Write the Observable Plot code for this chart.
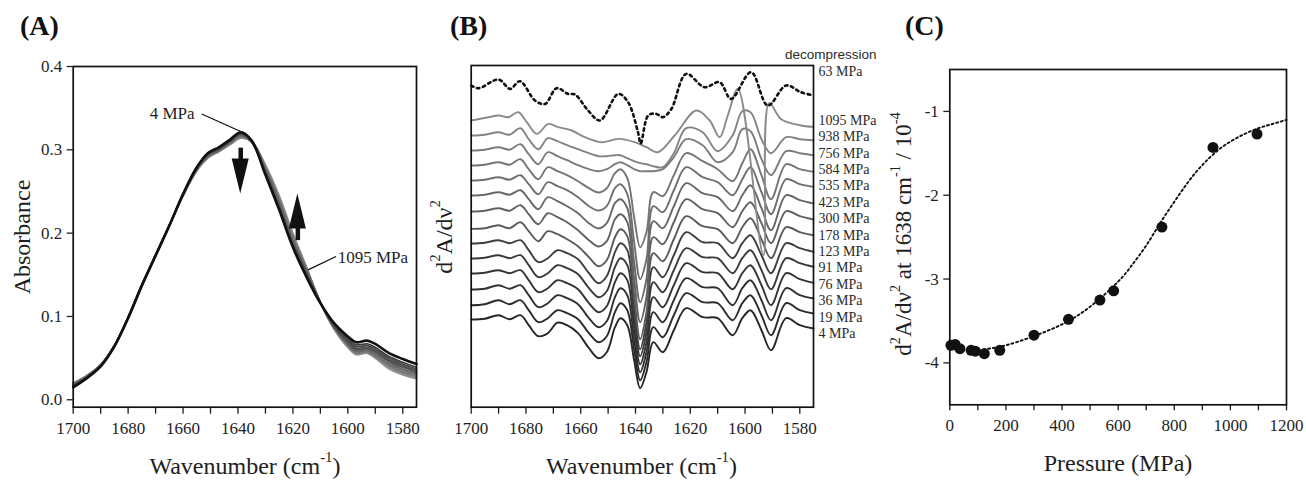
<!DOCTYPE html>
<html><head><meta charset="utf-8">
<script src="https://cdn.jsdelivr.net/npm/d3@7"></script>
<script src="https://cdn.jsdelivr.net/npm/@observablehq/plot@0.6"></script>
<style>
body{margin:0;background:#fff;}
#wrap{position:relative;width:1306px;height:480px;overflow:hidden;background:#fff;font-family:"Liberation Serif","Times New Roman",serif;color:#222;}
.panel{position:absolute;top:0;}
.plab{position:absolute;top:12px;font-weight:bold;font-size:28px;line-height:28px;color:#111;}
svg g[aria-label$="tick label"] text{font-family:"Liberation Serif","Times New Roman",serif !important;font-variant:normal !important;font-variant-numeric:normal !important;font-size:17px !important;}
</style></head><body>
<div id="wrap">
  <div class="plab" style="left:20px">(A)</div>
  <div class="plab" style="left:450px">(B)</div>
  <div class="plab" style="left:905px">(C)</div>
  <div class="panel" id="pa" style="left:0px"></div>
  <div class="panel" id="pb" style="left:430px"></div>
  <div class="panel" id="pc" style="left:880px"></div>
</div>
<script>
// ---------------- DATA ----------------
const pressures = [4, 19, 36, 76, 91, 123, 178, 300, 423, 535, 584, 756, 938, 1095];
const wnTicks = [1700, 1690, 1680, 1670, 1660, 1650, 1640, 1630, 1620, 1610, 1600, 1590, 1580];
const absTicks = [0, 0.1, 0.2, 0.3, 0.4];

// Panel A: absorbance spectra
const wnA = [1700,1695,1690,1685,1680,1675,1670,1665,1660,1655,1651,1647,1643,1639,1635,1630,1625,1620,1615,1610,1605,1600,1597,1593,1590,1585,1580,1575];
const absA_4    = [.015,.026,.040,.064,.098,.137,.173,.209,.247,.279,.296,.303,.312,.321,.311,.270,.228,.183,.147,.116,.092,.076,.069,.071,.067,.056,.049,.043];
const absA_19   = [.016,.026,.040,.064,.098,.137,.173,.209,.247,.279,.295,.302,.311,.320,.310,.271,.229,.185,.149,.116,.090,.073,.066,.067,.063,.052,.045,.039];
const absA_36   = [.016,.027,.041,.064,.098,.137,.173,.209,.247,.278,.295,.302,.311,.320,.310,.272,.230,.186,.150,.116,.089,.071,.064,.065,.061,.050,.043,.037];
const absA_76   = [.017,.027,.041,.065,.098,.137,.173,.209,.246,.278,.294,.301,.310,.319,.310,.273,.232,.187,.151,.117,.089,.070,.062,.063,.059,.048,.041,.035];
const absA_91   = [.017,.027,.041,.065,.098,.137,.173,.209,.246,.278,.294,.301,.310,.319,.309,.274,.233,.188,.152,.117,.088,.069,.061,.062,.058,.047,.040,.034];
const absA_123  = [.017,.028,.041,.065,.099,.138,.173,.209,.246,.277,.293,.300,.309,.318,.309,.275,.234,.189,.153,.117,.088,.068,.060,.061,.057,.046,.039,.033];
const absA_178  = [.018,.028,.041,.065,.099,.138,.174,.209,.246,.277,.293,.300,.309,.318,.310,.276,.236,.190,.154,.117,.087,.067,.059,.060,.056,.045,.037,.032];
const absA_300  = [.018,.028,.042,.065,.099,.138,.174,.209,.246,.277,.292,.299,.308,.317,.310,.277,.238,.192,.155,.117,.087,.066,.058,.059,.054,.043,.036,.031];
const absA_423  = [.019,.028,.042,.065,.099,.138,.174,.209,.245,.276,.292,.299,.308,.316,.310,.278,.240,.194,.156,.117,.086,.065,.057,.058,.053,.042,.034,.030];
const absA_535  = [.019,.029,.042,.065,.099,.138,.174,.209,.245,.276,.291,.299,.307,.316,.310,.279,.241,.196,.157,.117,.086,.065,.056,.058,.052,.041,.033,.029];
const absA_584  = [.019,.029,.042,.065,.099,.138,.174,.209,.245,.276,.291,.298,.307,.315,.310,.280,.242,.197,.157,.117,.086,.064,.056,.057,.052,.040,.032,.028];
const absA_756  = [.020,.029,.042,.065,.099,.138,.174,.209,.245,.275,.291,.298,.307,.315,.310,.281,.243,.198,.158,.117,.085,.064,.055,.057,.051,.039,.031,.027];
const absA_938  = [.020,.029,.042,.065,.099,.138,.174,.209,.245,.275,.290,.298,.306,.314,.310,.281,.244,.199,.158,.117,.085,.063,.055,.056,.050,.038,.030,.026];
const absA_1095 = [.020,.029,.042,.065,.099,.138,.174,.209,.245,.275,.290,.298,.306,.314,.310,.282,.245,.200,.159,.117,.085,.063,.054,.056,.050,.037,.030,.025];
// Panel A annotations (data coordinates)
const arrowsA = [{w: 1639, tail: 0.302, tip: 0.247}, {w: 1618.2, tail: 0.191, tip: 0.247}];
const noteA4 = [{text: "4 MPa", w: 1655.8, a: 0.344, lx: 1653.2, ly: 0.343, px: 1639, py: 0.322}];
const noteA1095 = [{text: "1095 MPa", w: 1603.7, a: 0.171, lx: 1604.3, ly: 0.172, px: 1614.5, py: 0.156}];

// Panel B: second-derivative spectra (arbitrary units, stacked)
const wnB = [1700,1695,1690,1686,1682,1679,1675.5,1672,1668.5,1665,1661,1657,1653.5,1650.5,1647.5,1645.5,1643,1640.5,1638.3,1636,1633.5,1630,1626,1621.5,1615.5,1610,1604.5,1601,1598,1594,1590.5,1585,1580,1575];
const d2B_4   = [87.7,88.5,92,88,92,82,71,74,84.5,82,74,59,49,55,80,89,82,47,19,35,65,55,77,99,90,89,72,89,97,77,57,89,82,78.7];
const d2B_19  = [102,103,107,103,107,97,85,89,97,94,88,74,65,71,95,104,97,58,27,45,80,70,92,114,105,104,87,104,112,92,72,104,97,93.7];
const d2B_36  = [117.7,118.5,122,118.5,122,112,100,104,112,109,103,89,80,86,110,119,112,68,35,55,95,85,107,129,120,119,102,119,127,107,87,119,112,108.7];
const d2B_76  = [133.7,134.5,137,134,137,127,115,119,127,124,118,104,95,101,125,134,127,79,43,65,110,100,122,144,135,134,118,134,142,122,102,134,128,124.3];
const d2B_91  = [148.7,149.5,152,149,152,142,130,134,142,139,133,119,110,116,140,149,142,90,51,75,125,115,137,159,150,149,134,149,157,137,118,149,144,140.3];
const d2B_123 = [163.7,164.5,167,164,167,157,145,149,157,154,148,134,124,131,155,164,157,101,58,85,140,130,152,175,165,164,149,164,172,152,134,164,159,155.3];
const d2B_178 = [178.3,179,182,179,185,176,166,176,173,168,161,150,141,147,170,178,171,112,68,95,154,146,168,191,181,178,164,180,189,168,149,180,175,172];
const d2B_300 = [195.7,196.5,199,196.5,202,193,183,194,190,185,177,167,160.7,166,188,193,185,128,85,110,170,163,185,208,198,194,180,196,205,184,164,196,191,187.7];
const d2B_423 = [211.7,212.5,215,212.5,217,208,198,210,206,201,194,184,178.7,184,204,208,199,145,105,128,186,179,201,224,214,210,196,212,222,199,177,212,207,203.7];
const d2B_535 = [226.7,227.5,230,227.5,232,223,213,225,221,217,210,201,196.7,201,219,223,213,165,128,148,201,195,217,240,230,225,212,228,240,215,193,228,223,220.3];
const d2B_584 = [241.7,242.5,245,242.5,248,238,228,240,236,232,226,219,214.7,219,234,238,229,190,160,175,215,211,232,254,246,238,226,244,258,232,208,243,238,235.3];
const d2B_756 = [256.7,257.5,260,257.5,263,253,243,255,251,247,242,238,236,238,243,245,242,238,236,236,236,238,250,268,262,245,255,278,276,248,232,256,254,252];
const d2B_938 = [271.7,272.5,275,272.5,279,268,258,269,266,262,258,254,251,251,252,252,249,246,244,243,241,240,254,279,275,256,272,296,295,268,254,270,268,267];
const wnB_1095 = [1700,1693.7,1690,1686.4,1682.8,1679.7,1676,1671.8,1668.2,1663.3,1658.5,1652.4,1646.3,1640.3,1636,1631.8,1625.7,1617.8,1612.9,1609.3,1606.3,1602.6,1593.3,1591.2,1586.8,1580,1575];
const d2B_1095 = [286.7,290,291.7,290,295,285,273.3,283.3,280,276.7,270,265,268.3,265,260,255,271.7,296.7,286.7,270,291.7,318.3,152,304,288,282,280.3];
const wnB_63 = [1700,1697.3,1690,1685.8,1682.2,1676.7,1673,1668.8,1664.6,1662.1,1657.3,1653,1646.3,1642.7,1639.1,1638.1,1635.3,1632.4,1630,1626.9,1621.5,1614.8,1609.3,1605.1,1597.8,1591.7,1585,1579.6,1575];
const d2B_63 = [321.7,319,327.7,318.3,326,306.7,303.3,319,313.3,312.7,296.7,286.7,313.3,305,275,263.7,292,293.3,290,298.3,333.3,320,325,308.3,335,301.7,321.7,315,311.7];

// Panel C: d2A/dv2 at 1638 cm-1 vs pressure
const pressureC = [4, 19, 36, 76, 91, 123, 178, 300, 423, 535, 584, 756, 938, 1095];
const d2C = [-3.79, -3.78, -3.83, -3.85, -3.86, -3.89, -3.85, -3.67, -3.48, -3.25, -3.14, -2.38, -1.43, -1.27];
const fitP = [120, 200, 300, 400, 500, 600, 650, 700, 750, 800, 850, 900, 950, 1000, 1050, 1100, 1150, 1200];
const fitV = [-3.84, -3.79, -3.68, -3.54, -3.33, -3.03, -2.83, -2.60, -2.33, -2.08, -1.84, -1.64, -1.48, -1.36, -1.27, -1.20, -1.15, -1.10];
const pTicks = [0, 100, 200, 300, 400, 500, 600, 700, 800, 900, 1000, 1100, 1200];
const cTicks = [-4, -3, -2, -1];

// ---------------- HELPERS ----------------
const serif = "Liberation Serif, Times New Roman, serif";
const sans = "Liberation Sans, Arial, sans-serif";
const fmtWn = d => d % 20 === 0 ? String(d) : "";
const baseStyle = {fontFamily: serif, fontSize: "17px", color: "#1e1e1e", background: "transparent", overflow: "visible"};
const axisFont = {fontFamily: serif, fontSize: 17, strokeWidth: 1.3, label: null};

function rich(svg, {x, y, rotate = 0, size = 24, parts}) {
  const t = d3.select(svg).append("text")
    .attr("transform", `translate(${x},${y}) rotate(${rotate})`)
    .attr("text-anchor", "middle").attr("font-family", serif)
    .attr("font-size", size).attr("fill", "#1e1e1e");
  let up = false;
  for (const [s, sup] of parts) {
    const ts = t.append("tspan").text(s);
    if (sup) { ts.attr("font-size", size * 0.62); if (!up) { ts.attr("dy", -0.48 * size); up = true; } }
    else if (up) { ts.attr("dy", 0.48 * size); up = false; }
  }
}
function serifTicks(svg) {
  d3.select(svg).selectAll('g[aria-label$="tick label"]')
    .attr("font-family", serif).attr("font-variant", null).style("font-family", serif).style("font-variant", "normal");
  d3.select(svg).selectAll('g[aria-label$="tick label"] text').style("font-family", serif);
}

// ---------------- PANEL A ----------------
const seriesA = [absA_4, absA_19, absA_36, absA_76, absA_91, absA_123, absA_178, absA_300, absA_423, absA_535, absA_584, absA_756, absA_938, absA_1095];
const colA = d3.scaleLinear().domain([0, 1, 13]).range(["#111111", "#404040", "#9c9c9c"]);
const rowsA = seriesA.map((vals, k) => vals.map((v, i) => ({p: pressures[k], w: wnA[i], v, c: colA(k)}))).reverse().flat();
const rowsA4 = rowsA.filter(d => d.p === 4), rowsAo = rowsA.filter(d => d.p !== 4);
const headLen = 0.042, headHalf = 3.1;
const heads = arrowsA.flatMap((d, k) => {
  const base = d.tip + (d.tail > d.tip ? headLen : -headLen);
  return [{k, w: d.w - headHalf, b: base, t: base}, {k, w: d.w, b: base, t: d.tip}, {k, w: d.w + headHalf, b: base, t: base}];
});
const shafts = arrowsA.map(d => ({w: d.w, y1: d.tail, y2: d.tip + (d.tail > d.tip ? headLen - 0.002 : -headLen + 0.002)}));

const chartA = Plot.plot({
  width: 440, height: 480, marginLeft: 72.7, marginRight: 24, marginTop: 66, marginBottom: 73.3,
  x: {domain: [1700, 1575]}, y: {domain: [-0.0089, 0.4]}, color: {type: "identity"},
  style: baseStyle,
  marks: [
    Plot.axisX({...axisFont, ticks: wnTicks, tickFormat: fmtWn, tickSize: 7, tickPadding: 8}),
    Plot.axisY({...axisFont, ticks: absTicks, tickFormat: d3.format(".1f"), tickSize: 6, tickPadding: 5}),
    Plot.line(rowsAo, {x: "w", y: "v", z: "p", stroke: "c", strokeWidth: 1.7, curve: "catmull-rom"}),
    Plot.line(rowsA4, {x: "w", y: "v", z: "p", stroke: "c", strokeWidth: 2.6, curve: "catmull-rom"}),
    Plot.ruleX(shafts, {x: "w", y1: "y1", y2: "y2", stroke: "#111", strokeWidth: 4.5}),
    Plot.areaY(heads, {x: "w", y1: "b", y2: "t", z: "k", fill: "#111", curve: "linear"}),
    Plot.link(noteA4, {x1: "lx", y1: "ly", x2: "px", y2: "py", stroke: "#111", strokeWidth: 1.3}),
    Plot.link(noteA1095, {x1: "lx", y1: "ly", x2: "px", y2: "py", stroke: "#111", strokeWidth: 1.3}),
    Plot.text(noteA4, {x: "w", y: "a", text: "text", textAnchor: "end", fontSize: 17, fontFamily: serif, fill: "#1e1e1e"}),
    Plot.text(noteA1095, {x: "w", y: "a", text: "text", textAnchor: "start", fontSize: 17, fontFamily: serif, fill: "#1e1e1e"}),
    Plot.frame({stroke: "#111", strokeWidth: 1.7})
  ]
});
document.getElementById("pa").appendChild(chartA);
serifTicks(chartA);
rich(chartA, {x: 30, y: 237, rotate: -90, parts: [["Absorbance"]]});
rich(chartA, {x: 245, y: 474, parts: [["Wavenumber (cm"], ["-1", true], [")"]]});

// ---------------- PANEL B ----------------
const seriesB = [
  [4, wnB, d2B_4], [19, wnB, d2B_19], [36, wnB, d2B_36], [76, wnB, d2B_76], [91, wnB, d2B_91],
  [123, wnB, d2B_123], [178, wnB, d2B_178], [300, wnB, d2B_300], [423, wnB, d2B_423], [535, wnB, d2B_535],
  [584, wnB, d2B_584], [756, wnB, d2B_756], [938, wnB, d2B_938], [1095, wnB_1095, d2B_1095]
];
const colB = d3.scaleLinear().domain([0, 5, 6, 13]).range(["#262626", "#3e3e3e", "#5a5a5a", "#8a8a8a"]);
const rowsB = seriesB.flatMap(([p, wn, vals], k) => vals.map((v, i) => ({p, w: wn[i], v, c: colB(k)})));
const rowsB63 = d2B_63.map((v, i) => ({w: wnB_63[i], v}));
const slotStep = 16.4, slotBase = d2B_4[d2B_4.length - 1] - 5;
const labelsB = pressures.map((p, k) => ({text: `${p} MPa`, y: slotBase + k * slotStep}));
const labelsB2 = [{text: "63 MPa", y: slotBase + 16 * slotStep}];
const labelsB3 = [{text: "decompression", y: slotBase + 17 * slotStep}];

const chartB = Plot.plot({
  width: 460, height: 480, marginLeft: 40.7, marginRight: 77, marginTop: 65, marginBottom: 73.3,
  x: {domain: [1700, 1575]}, y: {domain: [0, 341.7], axis: null}, color: {type: "identity"},
  style: baseStyle,
  marks: [
    Plot.axisX({...axisFont, ticks: wnTicks, tickFormat: fmtWn, tickSize: 7, tickPadding: 8}),
    Plot.line(rowsB, {x: "w", y: "v", z: "p", stroke: "c", strokeWidth: 1.9, curve: "catmull-rom"}),
    Plot.line(rowsB63, {x: "w", y: "v", stroke: "#111", strokeWidth: 2.6, strokeDasharray: "2.6,3.6", curve: "catmull-rom"}),
    Plot.text(labelsB, {x: 1575, y: "y", text: "text", textAnchor: "start", dx: 5, fontSize: 14, fontFamily: serif, fill: "#2a2a2a"}),
    Plot.text(labelsB2, {x: 1575, y: "y", text: "text", textAnchor: "start", dx: 5, fontSize: 14, fontFamily: serif, fill: "#2a2a2a"}),
    Plot.text(labelsB3, {x: 1575, y: "y", text: "text", textAnchor: "end", dx: 63, fontSize: 13.5, fontFamily: sans, fill: "#2a2a2a"}),
    Plot.frame({stroke: "#111", strokeWidth: 1.7})
  ]
});
document.getElementById("pb").appendChild(chartB);
serifTicks(chartB);
rich(chartB, {x: 22, y: 237, rotate: -90, parts: [["d"], ["2", true], ["A/dν"], ["2", true]]});
rich(chartB, {x: 211.5, y: 474, parts: [["Wavenumber (cm"], ["-1", true], [")"]]});

// ---------------- PANEL C ----------------
const rowsC = pressureC.map((p, i) => ({p, v: d2C[i]}));
const rowsFit = fitP.map((p, i) => ({p, v: fitV[i]}));
const chartC = Plot.plot({
  width: 426, height: 480, marginLeft: 69.3, marginRight: 20, marginTop: 69, marginBottom: 75.7,
  x: {domain: [0, 1200]}, y: {domain: [-4.5, -0.5]},
  style: baseStyle,
  marks: [
    Plot.axisX({...axisFont, ticks: pTicks, tickFormat: d => d % 200 === 0 ? String(d) : "", tickSize: 6, tickPadding: 8}),
    Plot.axisY({...axisFont, ticks: cTicks, tickFormat: d => String(d), tickSize: 6, tickPadding: 5}),
    Plot.line(rowsFit, {x: "p", y: "v", stroke: "#111", strokeWidth: 1.9, strokeDasharray: "2,2.8", curve: "natural"}),
    Plot.dot(rowsC, {x: "p", y: "v", r: 5.5, fill: "#111", stroke: "none"}),
    Plot.frame({stroke: "#111", strokeWidth: 1.7})
  ]
});
document.getElementById("pc").appendChild(chartC);
serifTicks(chartC);
rich(chartC, {x: 31, y: 234, rotate: -90, size: 23, parts: [["d"], ["2", true], ["A/dν"], ["2", true], [" at 1638 cm"], ["-1", true], [" / 10"], ["-4", true]]});
rich(chartC, {x: 238, y: 471, parts: [["Pressure (MPa)"]]});
</script>
</body></html>
